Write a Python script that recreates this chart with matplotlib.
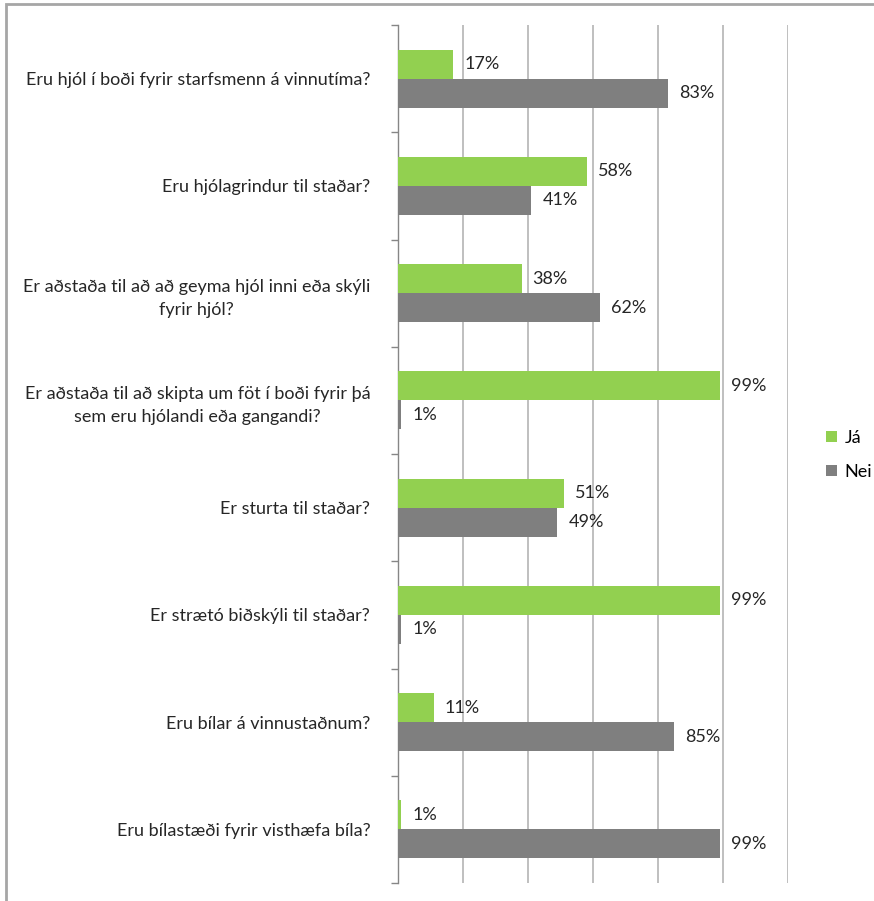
import numpy as np
import matplotlib
matplotlib.use("Agg")
from matplotlib import pyplot as plt
from matplotlib.patches import Rectangle

plt.rcParams['font.family'] = ['Lato', 'DejaVu Sans']

questions = [
    "Eru hjól í boði fyrir starfsmenn á vinnutíma?",
    "Eru hjólagrindur til staðar?",
    "Er aðstaða til að að geyma hjól inni eða skýli\nfyrir hjól?",
    "Er aðstaða til að skipta um föt í boði fyrir þá\nsem eru hjólandi eða gangandi?",
    "Er sturta til staðar?",
    "Er strætó biðskýli til staðar?",
    "Eru bílar á vinnustaðnum?",
    "Eru bílastæði fyrir visthæfa bíla?",
]
ja = [17, 58, 38, 99, 51, 99, 11, 1]
nei = [83, 41, 62, 1, 49, 1, 85, 99]

green = "#92D050"
grey = "#7F7F7F"
text_col = "#262626"
fs = 13

fig = plt.figure(figsize=(8.74, 9.01), dpi=100)
ax = fig.add_axes([398 / 874, 1 - 883 / 901, 390 / 874, 858 / 901])

y = np.arange(len(questions))
h = 0.27
ax.barh(y - h / 2, np.array(ja) / 100, height=h, color=green, label="Já", zorder=3)
ax.barh(y + h / 2, np.array(nei) / 100, height=h, color=grey, label="Nei", zorder=3)

for i in range(len(questions)):
    ax.annotate(f"{ja[i]}%", (ja[i] / 100, y[i] - h / 2), xytext=(8, 0),
                textcoords="offset points", va="center", ha="left",
                fontsize=fs, color=text_col)
    ax.annotate(f"{nei[i]}%", (nei[i] / 100, y[i] + h / 2), xytext=(8, 0),
                textcoords="offset points", va="center", ha="left",
                fontsize=fs, color=text_col)

ax.set_xlim(0, 1.2)
ax.set_ylim(len(questions) - 0.5, -0.5)
ax.set_xticks(np.arange(0, 1.21, 0.2))
ax.tick_params(axis="x", length=0, labelbottom=False)
ax.grid(axis="x", color="#BFBFBF", linewidth=1.4, zorder=0)

ax.set_yticks(y)
ax.set_yticklabels(questions, fontsize=fs, color=text_col,
                   multialignment="center", linespacing=1.55)
ax.tick_params(axis="y", length=0, pad=20)
ax.set_yticks(np.arange(-0.5, len(questions)), minor=True)
ax.tick_params(axis="y", which="minor", length=5, color="#868686", width=1)

for s in ["top", "right", "bottom"]:
    ax.spines[s].set_visible(False)
ax.spines["left"].set_color("#868686")
ax.spines["left"].set_linewidth(1)

fig.legend(loc="center left", bbox_to_anchor=(810 / 874, 1 - 455 / 901),
           frameon=False, fontsize=fs, handlelength=0.6, handleheight=0.6,
           labelspacing=1.0, handletextpad=0.4)

# chart border
fig.patches.append(Rectangle((6 / 874, -0.1), 1.2, 1 - 3.5 / 901 + 0.1,
                             transform=fig.transFigure, fill=False,
                             edgecolor="#A6A6A6", linewidth=2))

fig.savefig("out.png", dpi=100)
